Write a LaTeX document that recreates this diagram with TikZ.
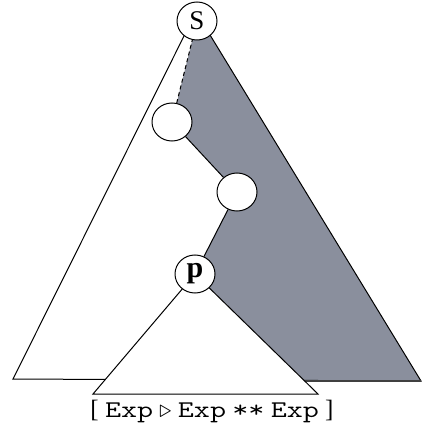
\documentclass[tikz,border=0pt]{standalone}
\usepackage{fontspec}
\usepackage{graphicx}
\setmainfont{Liberation Serif}
\usetikzlibrary{shapes.geometric,backgrounds}
\definecolor{treegray}{HTML}{8A8F9D}
\newcommand{\tok}[1]{\scalebox{1.3}[1]{\fontsize{24}{26}\selectfont\ttfamily #1}}
\tikzset{
  % baum
  tn/.style={ellipse,draw=black,fill=white,line width=1pt,inner sep=0pt,
             minimum width=40pt,minimum height=38pt},
  tri/.style={draw=black,line width=1pt,line join=miter},
  spine/.style={draw=black,line width=1pt},
  ghost/.style={draw=black,line width=1pt,dash pattern=on 4pt off 3pt},
  region/.style={fill=treegray},
  rim/.style={draw=black!75,line width=2pt},
  expr/.style={font=\fontsize{25}{28}\selectfont,inner sep=0pt},
}

\begin{document}
\begin{tikzpicture}[x=1pt,y=-1pt]
\useasboundingbox (0,0) rectangle (422,430);
  \coordinate (top) at (196,12);
  \coordinate (bl) at (13,379);
  \coordinate (br) at (421,381);
  \coordinate (gb) at (304,381);
  \coordinate (pl) at (93,394);
  \coordinate (pr) at (318,394);
  \node[tn,font=\fontsize{27}{29}\selectfont] (S) at (197,21) {S};
  \node[tn] (a) at (172,122) {};
  \node[tn] (b) at (237,192) {};
  \node[tn,font=\fontsize{30}{32}\selectfont\bfseries] (p) at (195,274) {p};
  \begin{scope}[on background layer]
    \fill[region] (top) -- (br) -- (gb) -- (p.center) -- (b.center)
      -- (a.center) -- (S.center) -- cycle;
    \draw[tri] (bl) -- (top) -- (br) -- cycle;
    \draw[rim] (gb) -- (br);
    \filldraw[tri,fill=white] (p.center) -- (pr) -- (pl) -- cycle;
  \end{scope}
  \draw[spine] (p) -- (b);
  \draw[spine] (b) -- (a);
  \draw[ghost] (a) -- (S);
  \node[expr] (sent) at (212,411)
    {[ \tok{Exp} $\triangleright$ \tok{Exp} \tok{**} \tok{Exp} ]};
\end{tikzpicture}
\end{document}
